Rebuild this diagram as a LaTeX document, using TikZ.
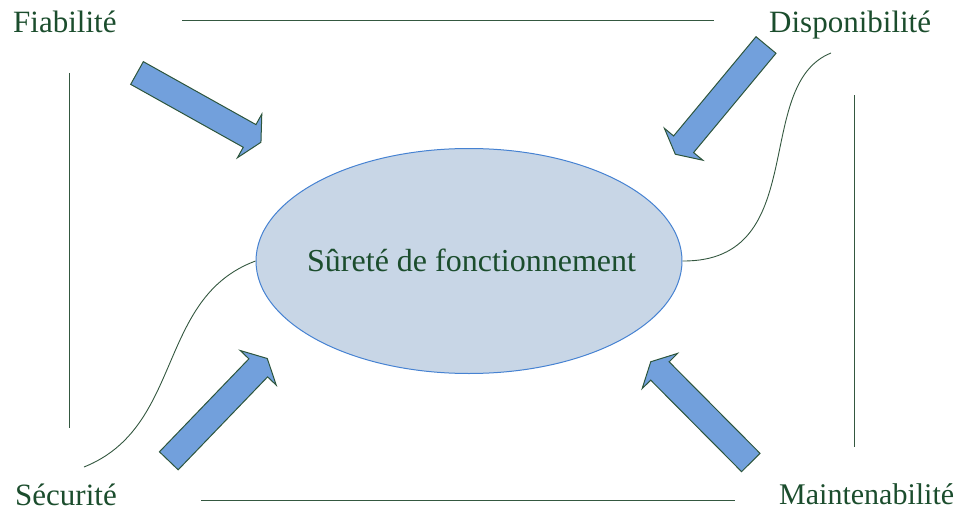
\documentclass[tikz,border=0pt]{standalone}
\usepackage{fontspec}
\setmainfont{Liberation Serif}
\usetikzlibrary{shapes.geometric}

\definecolor{txtgreen}{RGB}{27,77,45}
\definecolor{linegreen}{RGB}{52,88,64}
\definecolor{arrowfill}{RGB}{114,160,220}
\definecolor{arrowedge}{RGB}{45,85,60}
\definecolor{corefill}{RGB}{200,214,230}
\definecolor{coreedge}{RGB}{70,130,210}

\tikzset{
  label/.style={text=txtgreen, font=\fontsize{31}{37}\selectfont, inner sep=0pt, anchor=base west},
  frame/.style={draw=linegreen, line width=0.9pt},
  link/.style={draw=linegreen, line width=0.9pt},
  arrowshape/.style={fill=arrowfill, draw=arrowedge, line width=1pt, line join=miter},
  pics/blockarrow/.style={code={
    \draw[arrowshape] (0,-13) -- (129,-13) -- (129,-25) -- (142,0)
      -- (129,25) -- (129,13) -- (0,13) -- cycle;
  }}
}

\begin{document}
\begin{tikzpicture}[x=1pt, y=-1pt]
  \useasboundingbox (0,0) rectangle (961,511);

  % central ellipse
  \node[ellipse, fill=corefill, draw=coreedge, line width=1pt,
        minimum width=426pt, minimum height=225pt, inner sep=0pt] (core) at (469,261) {};
  \node[label, font=\fontsize{32}{38}\selectfont] (coretext) at (307,271) {Sûreté de fonctionnement};

  % corner labels
  \node[label] (fia) at (13,33) {Fiabilité};
  \node[label] (dis) at (769,33) {Disponibilité};
  \node[label] (sec) at (15,505) {Sécurité};
  \node[label, font=\fontsize{30}{36}\selectfont] (mai) at (779,504) {Maintenabilité};

  % frame lines between the labels
  \coordinate (t1) at (182,20);  \coordinate (t2) at (714,20);
  \coordinate (b1) at (201,500); \coordinate (b2) at (735,500);
  \coordinate (l1) at (69,73);   \coordinate (l2) at (69,428);
  \coordinate (r1) at (854,95);  \coordinate (r2) at (854,447);
  \draw[frame] (t1) -- (t2);
  \draw[frame] (b1) -- (b2);
  \draw[frame] (l1) -- (l2);
  \draw[frame] (r1) -- (r2);

  % curved links from the ellipse
  \coordinate (rc) at (831,53);
  \coordinate (lc) at (84,467);
  \draw[link] (core.east) .. controls (812,262) and (751,85) .. (rc);
  \draw[link] (core.west) .. controls (156,298) and (184,427) .. (lc);

  % block arrows pointing at the ellipse
  \pic[rotate=-29.2] at (137,73) {blockarrow};
  \pic[rotate=-129.7] at (766,45) {blockarrow};
  \pic[rotate=46.1] at (168.8,460.8) {blockarrow};
  \pic[rotate=134.8] at (750.8,462.5) {blockarrow};
\end{tikzpicture}
\end{document}
